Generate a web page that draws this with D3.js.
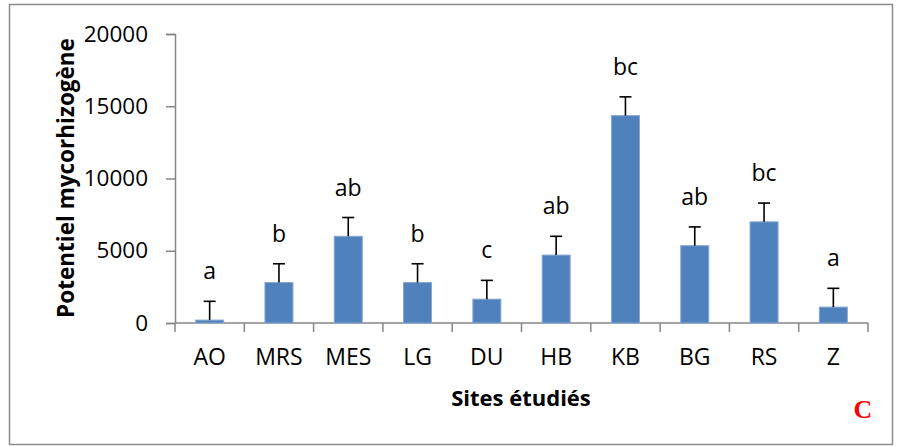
<!DOCTYPE html>
<html>
<head>
<meta charset="utf-8">
<script src="https://cdn.jsdelivr.net/npm/d3@7"></script>
<style>
  html, body { margin: 0; padding: 0; background: #fff; }
  svg { display: block; }
  text { font-family: "Open Sans", "Noto Sans", sans-serif; fill: #000; }
</style>
</head>
<body>
<svg id="chart" width="898" height="446"></svg>
<script>
// Mycorrhizal potential by studied site, with standard error and group letters
const sites = ["AO", "MRS", "MES", "LG", "DU", "HB", "KB", "BG", "RS", "Z"];
const potential = [200, 2800, 6000, 2800, 1650, 4700, 14350, 5350, 7000, 1100];
const errors = [1300, 1300, 1300, 1300, 1300, 1300, 1300, 1300, 1300, 1300];
const groups = ["a", "b", "ab", "b", "c", "ab", "bc", "ab", "bc", "a"];
const yTicks = [0, 5000, 10000, 15000, 20000];

const svg = d3.select("#chart");

// outer frame
svg.append("rect")
  .attr("x", 9.5).attr("y", 4.5)
  .attr("width", 883).attr("height", 440)
  .attr("fill", "#fff")
  .attr("stroke", "#8c8c8c")
  .attr("stroke-width", 1.5);

const plot = { left: 175, right: 868, top: 34, bottom: 323 };

const x = d3.scaleBand()
  .domain(sites)
  .range([plot.left, plot.right])
  .paddingInner(0)
  .paddingOuter(0);

const y = d3.scaleLinear()
  .domain([0, 20000])
  .range([plot.bottom, plot.top]);

const axisColor = "#868686";

// y axis
const yAxis = svg.append("g")
  .attr("transform", `translate(${plot.left},0)`)
  .call(d3.axisLeft(y).tickValues(yTicks).tickSize(9).tickPadding(18).tickFormat(d3.format("d")));
yAxis.select(".domain").attr("stroke", axisColor).attr("stroke-width", 1.5);
yAxis.selectAll(".tick line").attr("stroke", axisColor).attr("stroke-width", 1.5);
yAxis.selectAll(".tick text")
  .attr("font-size", 22.5)
  .attr("font-family", "'Open Sans', sans-serif")
  .attr("fill", "#000");

// x axis: ticks at category boundaries
const xAxisG = svg.append("g").attr("transform", `translate(0,${plot.bottom})`);
xAxisG.append("line")
  .attr("x1", plot.left).attr("x2", plot.right)
  .attr("y1", 0).attr("y2", 0)
  .attr("stroke", axisColor).attr("stroke-width", 1.5);
const boundaries = sites.map(s => x(s)).concat([x(sites[sites.length - 1]) + x.bandwidth()]);
xAxisG.selectAll("line.tick")
  .data(boundaries)
  .join("line")
  .attr("class", "tick")
  .attr("x1", d => d).attr("x2", d => d)
  .attr("y1", 0).attr("y2", 9)
  .attr("stroke", axisColor).attr("stroke-width", 1.5);
xAxisG.selectAll("text.cat")
  .data(sites)
  .join("text")
  .attr("class", "cat")
  .attr("x", d => x(d) + x.bandwidth() / 2)
  .attr("y", 42)
  .attr("text-anchor", "middle")
  .attr("font-size", 23)
  .text(d => d);

// bars
const barW = 28;
const data = sites.map((s, i) => ({ site: s, value: potential[i], err: errors[i], group: groups[i] }));

svg.append("g").selectAll("rect")
  .data(data)
  .join("rect")
  .attr("x", d => x(d.site) + x.bandwidth() / 2 - barW / 2)
  .attr("y", d => y(d.value))
  .attr("width", barW)
  .attr("height", d => y(0) - y(d.value))
  .attr("fill", "#4f81bd")
  .attr("stroke", "#86a7d3")
  .attr("stroke-width", 1);

// error bars (upper only)
const capW = 12;
const eb = svg.append("g").attr("stroke", "#000").attr("stroke-width", 1.6);
eb.selectAll("line.v")
  .data(data)
  .join("line")
  .attr("class", "v")
  .attr("x1", d => x(d.site) + x.bandwidth() / 2)
  .attr("x2", d => x(d.site) + x.bandwidth() / 2)
  .attr("y1", d => y(d.value))
  .attr("y2", d => y(d.value + d.err));
eb.selectAll("line.c")
  .data(data)
  .join("line")
  .attr("class", "c")
  .attr("x1", d => x(d.site) + x.bandwidth() / 2 - capW / 2)
  .attr("x2", d => x(d.site) + x.bandwidth() / 2 + capW / 2)
  .attr("y1", d => y(d.value + d.err))
  .attr("y2", d => y(d.value + d.err));

// significance letters
svg.append("g").selectAll("text")
  .data(data)
  .join("text")
  .attr("x", d => x(d.site) + x.bandwidth() / 2)
  .attr("y", d => y(d.value + d.err) - 22)
  .attr("text-anchor", "middle")
  .attr("font-size", 23)
  .text(d => d.group);

// axis titles
svg.append("text")
  .attr("transform", "translate(74,178) rotate(-90)")
  .attr("text-anchor", "middle")
  .attr("font-size", 22.5)
  .attr("font-weight", "bold")
  .text("Potentiel mycorhizogène");

svg.append("text")
  .attr("x", 521)
  .attr("y", 406)
  .attr("text-anchor", "middle")
  .attr("font-size", 22)
  .attr("font-weight", "bold")
  .text("Sites étudiés");

// panel letter
svg.append("text")
  .attr("x", 863)
  .attr("y", 418)
  .attr("text-anchor", "middle")
  .attr("font-size", 26)
  .attr("font-weight", "bold")
  .style("font-family", "'Liberation Serif', serif")
  .style("fill", "#ff0000")
  .text("C");
</script>
</body>
</html>
